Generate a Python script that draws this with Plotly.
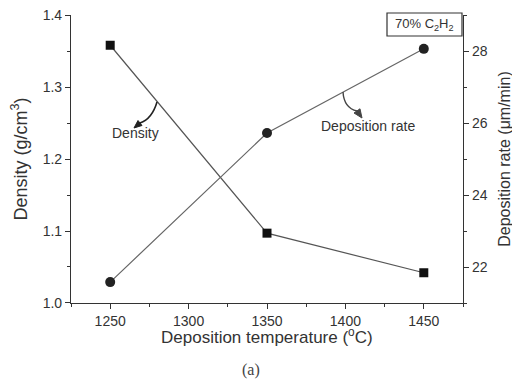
import plotly.graph_objects as go

temperature = [1250, 1350, 1450]
density = [1.358, 1.097, 1.042]
deposition_rate = [21.58, 25.72, 28.06]

x_ticks = [1250, 1300, 1350, 1400, 1450]
y_ticks = [1.0, 1.1, 1.2, 1.3, 1.4]
y2_ticks = [22, 24, 26, 28]

# page offset caused by default body margin
OFF = 8
W, H = 520 - OFF, 382 - OFF
# plot area in page pixels: x 71..463, y 15..303
L, R, T, B = 71 - OFF, 520 - 463, 15 - OFF, 382 - 303
pw, ph = W - L - R, H - T - B


def px(x, y):
    # page pixel -> paper coordinates
    return (x - OFF - L) / pw, (H - B - (y - OFF)) / ph


def path(points, cmds):
    s = ""
    for c, (x, y) in zip(cmds, points):
        xp, yp = px(x, y)
        s += f"{c}{xp:.5f},{yp:.5f} "
    return s.strip()


font_main = "Liberation Sans, Arial, sans-serif"
col_txt = "#333333"

fig = go.Figure()
fig.add_trace(go.Scatter(
    x=temperature, y=density, mode="lines+markers", name="Density",
    line=dict(color="#555555", width=1.2),
    marker=dict(symbol="square", size=9, color="#111111"),
))
fig.add_trace(go.Scatter(
    x=temperature, y=deposition_rate, mode="lines+markers", name="Deposition rate",
    yaxis="y2",
    line=dict(color="#666666", width=1.2),
    marker=dict(symbol="circle", size=10, color="#222222"),
))

axis_common = dict(
    showline=True, linecolor="#333333", linewidth=1.2, ticks="outside",
    ticklen=5, tickcolor="#333333", showgrid=False, zeroline=False,
    ticklabeloverflow="allow",
    tickfont=dict(family=font_main, size=14, color=col_txt),
)

fig.update_layout(
    width=W, height=H,
    margin=dict(l=L, r=R, t=T, b=B, autoexpand=False),
    paper_bgcolor="white", plot_bgcolor="white",
    showlegend=False,
    font=dict(family=font_main, color=col_txt),
    xaxis=dict(
        range=[1225, 1475], tickvals=x_ticks, **axis_common,
        minor=dict(dtick=25, tick0=1225, ticks="outside", ticklen=3, tickcolor="#333333"),
    ),
    yaxis=dict(
        range=[0.99999, 1.40001], tickvals=y_ticks, tickformat=".1f", **axis_common,
        minor=dict(dtick=0.05, tick0=1.0, ticks="outside", ticklen=3, tickcolor="#333333"),
        title=dict(text="Density (g/cm<sup>3</sup>)",
                   font=dict(family=font_main, size=18, color=col_txt), standoff=10),
    ),
    yaxis2=dict(
        range=[21, 29], tickvals=y2_ticks, overlaying="y", side="right", **axis_common,
        minor=dict(dtick=1, tick0=21, ticks="outside", ticklen=3, tickcolor="#333333"),
        title=dict(text="Deposition rate (μm/min)",
                   font=dict(family=font_main, size=16, color=col_txt), standoff=12),
    ),
)

# curved arrows
shapes = []
shapes.append(dict(type="path", xref="paper", yref="paper",
                   path=path([(157, 102), (152, 119), (140, 123)], ["M", "Q", " "]),
                   line=dict(color="#222222", width=1.6)))
shapes.append(dict(type="path", xref="paper", yref="paper",
                   path=path([(134, 128), (142, 125.5), (138, 120.5)], ["M", "L", "L"]) + " Z",
                   fillcolor="#222222", line=dict(color="#222222", width=1)))
shapes.append(dict(type="path", xref="paper", yref="paper",
                   path=path([(343, 92), (344, 108), (357, 111)], ["M", "Q", " "]),
                   line=dict(color="#444444", width=1.4)))
shapes.append(dict(type="path", xref="paper", yref="paper",
                   path=path([(362, 118), (360, 108.8), (354, 113)], ["M", "L", "L"]) + " Z",
                   fillcolor="#444444", line=dict(color="#444444", width=1)))
# label box
x0, y0 = px(387, 36)
x1, y1 = px(462, 13)
shapes.append(dict(type="rect", xref="paper", yref="paper", x0=x0, y0=y0, x1=x1, y1=y1,
                   line=dict(color="#333333", width=1.2), fillcolor="white"))
fig.update_layout(shapes=shapes)

ann = []


def add_text(x, y, text, size, family=font_main, color=col_txt):
    xa, ya = px(x, y)
    ann.append(dict(x=xa, y=ya, xref="paper", yref="paper", text=text, showarrow=False,
                    xanchor="center", yanchor="middle",
                    font=dict(family=family, size=size, color=color)))


add_text(135, 133, "Density", 14)
add_text(368, 126, "Deposition rate", 14)
add_text(424.5, 24, "70% C<sub>2</sub>H<sub>2</sub>", 13)
add_text(267, 336, "Deposition temperature (<sup>o</sup>C)", 17)
add_text(251, 370, "(a)", 16, family="Liberation Serif, serif", color="#444444")
fig.update_layout(annotations=ann)

fig.write_html("out.html")
